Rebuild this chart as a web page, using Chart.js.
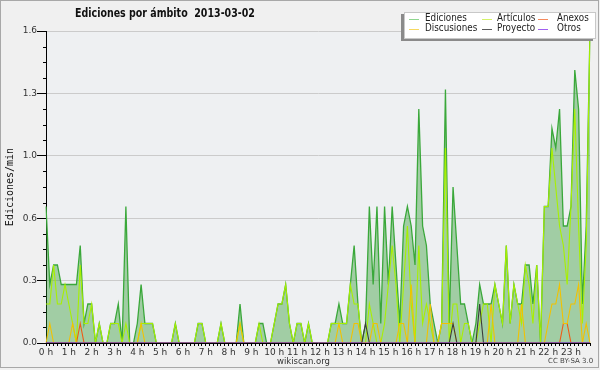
<!DOCTYPE html>
<html>
<head>
<meta charset="utf-8">
<script src="https://cdn.jsdelivr.net/npm/chart.js@4.4.1/dist/chart.umd.min.js"></script>
<style>
   body { margin: 0; background: #ffffff; }
   #wrap { position: relative; width: 600px; height: 370px; background: #f0f0f0; overflow: hidden; }
   #chart__1 { position: absolute; left: 0; top: 0; }
   #frame { position: absolute; left: 0; top: 0; width: 599px; height: 368px; box-sizing: border-box; border: 1px solid #a8a8a8; pointer-events: none; }
   .txt { position: absolute; white-space: pre; font-family: "DejaVu Sans", sans-serif; color: #111; }
   #title { left: 75px; top: 6px; font-size: 12px; font-weight: bold; transform: scaleX(0.79); transform-origin: 0 0; }
   #legend { position: absolute; left: 404px; top: 12px; width: 190px; height: 25px; background: #ffffff; border: 1px solid #c8c8c8; box-shadow: -3px 2px 0 #8a8a8a; }
   .sw { position: absolute; width: 10px; height: 0; border-top: 1px solid; }
   .lg { position: absolute; font-size: 10px; color: #222; transform: scaleX(0.88); transform-origin: 0 0; }
   #foot1 { left: 277px; top: 356px; font-size: 8.5px; color: #333; }
   #foot2 { left: 548px; top: 357px; font-size: 7px; color: #444; }
</style>
</head>
<body>
<div id="wrap">
   <canvas id="chart__1" width="600" height="370"></canvas>
   <div id="title" class="txt">Ediciones por ámbito  2013-03-02</div>
   <div id="legend"></div>
   <div id="foot1" class="txt">wikiscan.org</div>
   <div id="foot2" class="txt">CC BY-SA 3.0</div>
   <div id="frame"></div>
</div>
<script>
// DATOS (ediciones por minuto, tramos de 10 minutos)
const hourLabels = ["0 h", "1 h", "2 h", "3 h", "4 h", "5 h", "6 h", "7 h", "8 h", "9 h", "10 h", "11 h",
   "12 h", "13 h", "14 h", "15 h", "16 h", "17 h", "18 h", "19 h", "20 h", "21 h", "22 h", "23 h"];

const ediciones = [
   0.7, 0.3, 0.4, 0.4, 0.3, 0.3,
   0.3, 0.3, 0.3, 0.5, 0.1, 0.2,
   0.2, 0, 0.1, 0, 0, 0.1,
   0.1, 0.2, 0, 0.7, 0, 0,
   0.1, 0.3, 0.1, 0.1, 0.1, 0,
   0, 0, 0, 0, 0.1, 0,
   0, 0, 0, 0, 0.1, 0.1,
   0, 0, 0, 0, 0.1, 0,
   0, 0, 0, 0.2, 0, 0,
   0, 0, 0.1, 0.1, 0, 0,
   0.1, 0.2, 0.2, 0.3, 0.1, 0,
   0.1, 0.1, 0, 0.1, 0, 0,
   0, 0, 0, 0.1, 0.1, 0.2,
   0.1, 0.1, 0.3, 0.5, 0.2, 0,
   0.1, 0.7, 0.3, 0.7, 0.1, 0.7,
   0.3, 0.7, 0.4, 0.1, 0.6, 0.7,
   0.6, 0.4, 1.2, 0.6, 0.5, 0.2,
   0.1, 0, 0.1, 1.3, 0.1, 0.8,
   0.5, 0.2, 0.2, 0.1, 0, 0.1,
   0.3, 0.2, 0.2, 0.2, 0.3, 0.2,
   0.1, 0.5, 0.1, 0.3, 0.2, 0.2,
   0.4, 0.4, 0.2, 0.4, 0, 0.7,
   0.7, 1.1, 1.0, 1.2, 0.6, 0.6,
   0.7, 1.4, 1.2, 0.2, 0.6, 1.6,
];

const articulos = [
   0.2, 0.2, 0.4, 0.2, 0.2, 0.3,
   0.2, 0.1, 0, 0.4, 0.1, 0.1,
   0.2, 0, 0.1, 0, 0, 0.1,
   0.1, 0.1, 0, 0.1, 0, 0,
   0, 0.1, 0.1, 0.1, 0.1, 0,
   0, 0, 0, 0, 0.1, 0,
   0, 0, 0, 0, 0.1, 0.1,
   0, 0, 0, 0, 0.1, 0,
   0, 0, 0, 0.1, 0, 0,
   0, 0, 0.1, 0, 0, 0,
   0.1, 0.2, 0.2, 0.3, 0.1, 0,
   0.1, 0.1, 0, 0.1, 0, 0,
   0, 0, 0, 0.1, 0.1, 0.1,
   0.1, 0.1, 0.3, 0.2, 0.2, 0,
   0, 0.2, 0.1, 0, 0, 0.1,
   0.3, 0.5, 0.3, 0, 0.3, 0.6,
   0.2, 0, 0.5, 0.1, 0.2, 0.1,
   0, 0, 0.1, 1.0, 0, 0.2,
   0.2, 0, 0.1, 0.1, 0, 0,
   0.1, 0.2, 0.2, 0, 0.3, 0.2,
   0.1, 0.5, 0.1, 0.3, 0.2, 0.1,
   0.4, 0.3, 0.1, 0.4, 0, 0.7,
   0.7, 1.0, 0.8, 0.6, 0.5, 0.3,
   0.7, 1.2, 0.6, 0.1, 0.5, 1.6,
];

const anexos = [
   0, 0, 0, 0, 0, 0,
   0, 0, 0, 0.1, 0, 0,
   0, 0, 0, 0, 0, 0,
   0, 0, 0, 0, 0, 0,
   0, 0, 0, 0, 0, 0,
   0, 0, 0, 0, 0, 0,
   0, 0, 0, 0, 0, 0,
   0, 0, 0, 0, 0, 0,
   0, 0, 0, 0, 0, 0,
   0, 0, 0, 0, 0, 0,
   0, 0, 0, 0, 0, 0,
   0, 0, 0, 0, 0, 0,
   0, 0, 0, 0, 0, 0,
   0, 0, 0, 0, 0, 0,
   0, 0, 0, 0, 0, 0,
   0, 0, 0, 0, 0, 0,
   0, 0, 0, 0, 0, 0,
   0, 0, 0, 0, 0, 0,
   0, 0, 0, 0, 0, 0,
   0, 0, 0, 0, 0, 0,
   0, 0, 0, 0, 0, 0,
   0, 0, 0, 0, 0, 0,
   0, 0, 0, 0, 0.1, 0.1,
   0, 0, 0, 0, 0, 0,
];

const discusiones = [
   0, 0.1, 0, 0, 0, 0,
   0, 0.1, 0, 0, 0, 0,
   0, 0, 0, 0, 0, 0,
   0, 0, 0, 0, 0, 0,
   0, 0.1, 0, 0, 0, 0,
   0, 0, 0, 0, 0, 0,
   0, 0, 0, 0, 0, 0,
   0, 0, 0, 0, 0, 0,
   0, 0, 0, 0.1, 0, 0,
   0, 0, 0, 0, 0, 0,
   0, 0, 0, 0, 0, 0,
   0, 0, 0, 0, 0, 0,
   0, 0, 0, 0, 0, 0.1,
   0, 0, 0, 0.1, 0.1, 0,
   0, 0, 0.1, 0.1, 0, 0,
   0, 0, 0, 0.1, 0.1, 0,
   0.3, 0, 0, 0, 0, 0.2,
   0, 0, 0.1, 0.1, 0.1, 0.1,
   0, 0, 0, 0, 0, 0,
   0, 0, 0, 0.2, 0, 0,
   0, 0, 0, 0, 0, 0.2,
   0, 0, 0, 0, 0, 0,
   0.1, 0.2, 0.2, 0.3, 0.1, 0.1,
   0.2, 0.2, 0.3, 0, 0.1, 0,
];

const proyecto = [
   0, 0, 0, 0, 0, 0,
   0, 0, 0, 0, 0, 0,
   0, 0, 0, 0, 0, 0,
   0, 0, 0, 0, 0, 0,
   0, 0, 0, 0, 0, 0,
   0, 0, 0, 0, 0, 0,
   0, 0, 0, 0, 0, 0,
   0, 0, 0, 0, 0, 0,
   0, 0, 0, 0, 0, 0,
   0, 0, 0, 0, 0, 0,
   0, 0, 0, 0, 0, 0,
   0, 0, 0, 0, 0, 0,
   0, 0, 0, 0, 0, 0,
   0, 0, 0, 0, 0, 0,
   0.1, 0, 0, 0, 0, 0,
   0, 0, 0, 0, 0, 0,
   0, 0, 0, 0, 0, 0,
   0, 0, 0, 0, 0, 0.1,
   0, 0, 0, 0, 0, 0,
   0.2, 0, 0, 0, 0, 0,
   0, 0, 0, 0, 0, 0,
   0, 0, 0, 0, 0, 0,
   0, 0, 0, 0, 0, 0,
   0, 0, 0, 0, 0, 0,
];

const otros = new Array(144).fill(0);

// etiquetas de los tramos (una por cada 10 minutos)
const slots = [];
for (let h = 0; h < 24; h++) {
   for (let m = 0; m < 60; m += 10) {
      slots.push(h + ":" + (m < 10 ? "0" : "") + m);
   }
}

const series = [
   { label: "Ediciones", data: ediciones, color: "#3aa83a", legend: "#8fd68f" },
   { label: "Artículos", data: articulos, color: "#a8f000", legend: "#d4f26a" },
   { label: "Anexos", data: anexos, color: "#f05a14", legend: "#f58a5e" },
   { label: "Discusiones", data: discusiones, color: "#f2c200", legend: "#f6d860" },
   { label: "Proyecto", data: proyecto, color: "#3c3c3c", legend: "#5a5a5a" },
   { label: "Otros", data: otros, color: "#9040f0", legend: "#a060f0" },
];

// LEYENDA (3 columnas x 2 filas)
const legendSwatchX = [4, 77, 133];
const legendTextX = [20, 92, 152];
const legendRowY = [6, 16];
const legendEl = document.getElementById("legend");
series.forEach(function (s, n) {
   const col = n % 3;
   const row = Math.floor(n / 3);
   const sw = document.createElement("div");
   sw.className = "sw";
   sw.style.left = legendSwatchX[col] + "px";
   sw.style.top = legendRowY[row] + "px";
   sw.style.borderTopColor = s.legend;
   legendEl.appendChild(sw);
   const tx = document.createElement("div");
   tx.className = "lg txt";
   tx.textContent = s.label;
   tx.style.left = legendTextX[col] + "px";
   tx.style.top = legendRowY[row] - 7 + "px";
   legendEl.appendChild(tx);
});

// PLUGIN: fondo del area y marcas menores del eje Y
const plotBg = {
   id: "plotBg",
   beforeDraw(chart) {
      const { ctx, chartArea: a } = chart;
      ctx.save();
      ctx.fillStyle = "#eef0f2";
      ctx.fillRect(a.left, a.top, a.right - a.left, a.bottom - a.top);
      ctx.restore();
   },
   afterDraw(chart) {
      const { ctx, chartArea: a } = chart;
      const y = chart.scales.y;
      ctx.save();
      ctx.strokeStyle = "#000";
      ctx.lineWidth = 1;
      for (let k = 1; k < 20; k++) {
         if (k % 4 === 0) continue;
         const py = Math.round(y.getPixelForValue(k * 0.08)) + 0.5;
         ctx.beginPath();
         ctx.moveTo(a.left - 3, py);
         ctx.lineTo(a.left, py);
         ctx.stroke();
      }
      ctx.restore();
   },
};

const datasets = series.map(function (s, i) {
   return {
      label: s.label,
      data: s.data,
      borderColor: s.color,
      backgroundColor: i === 0 ? "rgba(40, 150, 40, 0.39)" : s.color,
      borderWidth: i === 0 ? 1.3 : 1.1,
      fill: i === 0 ? "origin" : false,
      pointRadius: 0,
      tension: 0,
      order: 5 - i,
   };
});

const ctx1 = document.getElementById("chart__1").getContext("2d");
window.chart1 = new Chart(ctx1, {
   type: "line",
   data: { labels: slots, datasets: datasets },
   options: {
      responsive: false,
      animation: false,
      layout: { padding: { top: 31, right: 10, left: 0, bottom: 0 } },
      plugins: { legend: { display: false }, tooltip: { enabled: false } },
      scales: {
         x: {
            z: 1,
            afterFit: function (s) { s.height = 27; },
            border: { display: true, color: "#000", width: 1 },
            grid: { drawOnChartArea: false, tickLength: 3, color: "#000" },
            ticks: {
               autoSkip: false,
               maxRotation: 0,
               padding: 1,
               color: "#333",
               font: { family: "DejaVu Sans", size: 9 },
               callback: function (v, i) {
                  return i % 6 === 0 ? hourLabels[i / 6] : "";
               },
            },
         },
         y: {
            min: 0,
            max: 1.6,
            afterFit: function (s) { s.width = 46; },
            border: { display: true, color: "#000", width: 1 },
            grid: { color: "#cbcbcb", tickColor: "#000", tickLength: 9 },
            ticks: {
               stepSize: 0.32,
               padding: 0,
               color: "#333",
               font: { family: "DejaVu Sans", size: 9 },
               callback: function (v) { return v.toFixed(1); },
            },
            title: {
               display: true,
               text: "Ediciones/min",
               color: "#111",
               padding: { top: 4, bottom: 0 },
               font: { family: "DejaVu Sans Mono", size: 10 },
            },
         },
      },
   },
   plugins: [plotBg],
});
</script>
</body>
</html>
